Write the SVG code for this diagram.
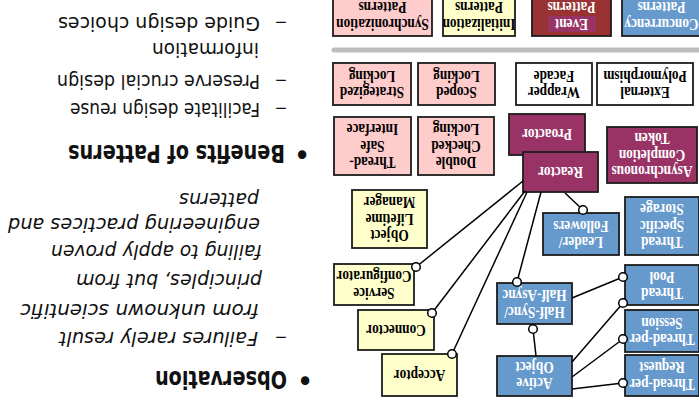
<svg xmlns="http://www.w3.org/2000/svg" width="699" height="403" viewBox="0 0 699 403">
<style>
  .box{stroke:#1c1c1c;stroke-width:1.8}
  .pink{fill:#ffcccc}
  .yel{fill:#ffffcc}
  .blue{fill:#6699cc}
  .mag{fill:#993366}
  .red{fill:#993333}
  .wht{fill:#ffffff}
  .lbl{font-family:"Liberation Serif","Times New Roman",serif;font-weight:bold;font-size:16px;text-anchor:middle;fill:#000;transform-box:fill-box;transform-origin:center;transform:scaleX(.83)}
  .inv{fill:#ffffff}
  .wire{stroke:#000;stroke-width:1.5;fill:none}
  .port{fill:#ffffff;stroke:#000;stroke-width:1.5}
  .txt{font-family:"DejaVu Sans",sans-serif;font-size:19px;fill:#111}
  .bold{font-weight:bold;font-size:24px}
  .ital{font-style:italic}
</style>
<rect width="699" height="403" fill="#ffffff"/>
<!-- slide is laid out upright, then turned half a revolution -->
<g transform="rotate(180 349.5 201.5)">

  <!-- bullet list -->
  <g id="notes" class="txt">
    <text class="bold" x="394" y="32" text-anchor="middle">•</text>
    <text class="bold" x="412" y="32" textLength="132" lengthAdjust="spacingAndGlyphs">Observation</text>
    <text x="412" y="71" textLength="12" lengthAdjust="spacingAndGlyphs">–</text>
    <text class="ital" x="441" y="71" textLength="199" lengthAdjust="spacingAndGlyphs">Failures rarely result</text>
    <text class="ital" x="440" y="99.5" textLength="239" lengthAdjust="spacingAndGlyphs">from unknown scientific</text>
    <text class="ital" x="437" y="129.5" textLength="186" lengthAdjust="spacingAndGlyphs">principles, but from</text>
    <text class="ital" x="437" y="158" textLength="211" lengthAdjust="spacingAndGlyphs">failing to apply proven</text>
    <text class="ital" x="439" y="185" textLength="252" lengthAdjust="spacingAndGlyphs">engineering practices and</text>
    <text class="ital" x="440" y="210" textLength="80" lengthAdjust="spacingAndGlyphs">patterns</text>
    <text class="bold" x="397" y="258" text-anchor="middle">•</text>
    <text class="bold" x="414" y="258" textLength="217" lengthAdjust="spacingAndGlyphs">Benefits of Patterns</text>
    <text x="412" y="300" textLength="12" lengthAdjust="spacingAndGlyphs">–</text>
    <text x="439" y="300" textLength="190" lengthAdjust="spacingAndGlyphs">Facilitate design reuse</text>
    <text x="412" y="328" textLength="12" lengthAdjust="spacingAndGlyphs">–</text>
    <text x="439" y="328" textLength="203" lengthAdjust="spacingAndGlyphs">Preserve crucial design</text>
    <text x="440" y="360" textLength="107" lengthAdjust="spacingAndGlyphs">information</text>
    <text x="412" y="386" textLength="12" lengthAdjust="spacingAndGlyphs">–</text>
    <text x="439" y="386" textLength="202" lengthAdjust="spacingAndGlyphs">Guide design choices</text>
  </g>

  <!-- pattern category headers -->
  <g id="synchronization">
    <rect class="box pink" x="267" y="367" width="99" height="45"/>
    <text class="lbl"><tspan x="316.5" y="384.3">Synchronization</tspan><tspan x="316.5" y="401">Patterns</tspan></text>
  </g>
  <g id="initialization">
    <rect class="box yel" x="184" y="367" width="72" height="45"/>
    <text class="lbl"><tspan x="220" y="384.3">Initialization</tspan><tspan x="220" y="401">Patterns</tspan></text>
  </g>
  <g id="event">
    <rect class="box red" x="88" y="367" width="79" height="45"/>
    <rect class="mag" x="103" y="371" width="48" height="16"/>
    <text class="lbl inv"><tspan x="127.5" y="384.3">Event</tspan><tspan x="127.5" y="401">Patterns</tspan></text>
  </g>
  <g id="concurrency">
    <rect class="box blue" x="-2" y="367" width="79" height="45"/>
    <text class="lbl inv"><tspan x="37.5" y="384.3">Concurrency</tspan><tspan x="37.5" y="401">Patterns</tspan></text>
  </g>

  <line id="divider" x1="-5" y1="353" x2="365" y2="353" stroke="#bdbdbd" stroke-width="5" stroke-linecap="round"/>

  <!-- second row -->
  <g id="strategized-locking">
    <rect class="box pink" x="288" y="298" width="78" height="42"/>
    <text class="lbl"><tspan x="327" y="316">Strategized</tspan><tspan x="327" y="332.5">Locking</tspan></text>
  </g>
  <g id="scoped-locking">
    <rect class="box pink" x="204" y="298" width="77" height="42"/>
    <text class="lbl"><tspan x="242.5" y="316">Scoped</tspan><tspan x="242.5" y="332.5">Locking</tspan></text>
  </g>
  <g id="wrapper-facade">
    <rect class="box wht" x="107" y="298" width="76" height="42"/>
    <text class="lbl"><tspan x="145" y="316">Wrapper</tspan><tspan x="145" y="332.5">Facade</tspan></text>
  </g>
  <g id="external-polymorphism">
    <rect class="box wht" x="6" y="298" width="96" height="42"/>
    <text class="lbl"><tspan x="54" y="316">External</tspan><tspan x="54" y="332.5">Polymorphism</tspan></text>
  </g>

  <!-- third row -->
  <g id="thread-safe-interface">
    <rect class="box pink" x="288" y="228" width="77" height="58"/>
    <text class="lbl"><tspan x="326.5" y="245.8">Thread-</tspan><tspan x="326.5" y="262.3">Safe</tspan><tspan x="326.5" y="278.8">Interface</tspan></text>
  </g>
  <g id="double-checked-locking">
    <rect class="box pink" x="205" y="228" width="76" height="58"/>
    <text class="lbl"><tspan x="243" y="245.8">Double</tspan><tspan x="243" y="262.3">Checked</tspan><tspan x="243" y="278.8">Locking</tspan></text>
  </g>
  <g id="proactor">
    <rect class="box mag" x="114" y="248" width="76" height="41"/>
    <text class="lbl inv" x="152" y="273.8">Proactor</text>
  </g>
  <g id="reactor">
    <rect class="box mag" x="101" y="211" width="75" height="40"/>
    <text class="lbl inv" x="138.5" y="236.3">Reactor</text>
  </g>
  <g id="asynchronous-completion-token">
    <rect class="box mag" x="2" y="220" width="90" height="56"/>
    <text class="lbl inv"><tspan x="47" y="236.8">Asynchronous</tspan><tspan x="47" y="253.3">Completion</tspan><tspan x="47" y="269.8">Token</tspan></text>
  </g>

  <!-- fourth row -->
  <g id="object-lifetime-manager">
    <rect class="box yel" x="272" y="155" width="75" height="58"/>
    <text class="lbl"><tspan x="309.5" y="172.8">Object</tspan><tspan x="309.5" y="189.3">Lifetime</tspan><tspan x="309.5" y="205.8">Manager</tspan></text>
  </g>
  <g id="leader-followers">
    <rect class="box blue" x="80" y="148" width="76" height="42"/>
    <text class="lbl inv"><tspan x="118" y="166">Leader/</tspan><tspan x="118" y="182.5">Followers</tspan></text>
  </g>
  <g id="thread-specific-storage">
    <rect class="box blue" x="0" y="148" width="74" height="58"/>
    <text class="lbl inv"><tspan x="37" y="165.8">Thread</tspan><tspan x="37" y="182.3">Specific</tspan><tspan x="37" y="198.8">Storage</tspan></text>
  </g>

  <!-- lower rows -->
  <g id="service-configurator">
    <rect class="box yel" x="285" y="98" width="80" height="41"/>
    <text class="lbl"><tspan x="325" y="115.5">Service</tspan><tspan x="325" y="132">Configurator</tspan></text>
  </g>
  <g id="connector">
    <rect class="box yel" x="265" y="53" width="76" height="40"/>
    <text class="lbl" x="303" y="78.3">Connector</text>
  </g>
  <g id="acceptor">
    <rect class="box yel" x="242" y="7" width="75" height="42"/>
    <text class="lbl" x="279.5" y="33.3">Acceptor</text>
  </g>
  <g id="half-sync-half-async">
    <rect class="box blue" x="127" y="79" width="75" height="41"/>
    <text class="lbl inv"><tspan x="164.5" y="96.5">Half-Sync/</tspan><tspan x="164.5" y="113">Half-Async</tspan></text>
  </g>
  <g id="active-object">
    <rect class="box blue" x="127" y="7" width="75" height="40"/>
    <text class="lbl inv"><tspan x="164.5" y="25">Active</tspan><tspan x="164.5" y="41.5">Object</tspan></text>
  </g>
  <g id="thread-pool">
    <rect class="box blue" x="0" y="98" width="74" height="40"/>
    <text class="lbl inv"><tspan x="37" y="115">Thread</tspan><tspan x="37" y="131.5">Pool</tspan></text>
  </g>
  <g id="thread-per-session">
    <rect class="box blue" x="0" y="51" width="74" height="42"/>
    <text class="lbl inv"><tspan x="37" y="69">Thread-per</tspan><tspan x="37" y="85.5">Session</tspan></text>
  </g>
  <g id="thread-per-request">
    <rect class="box blue" x="0" y="7" width="74" height="41"/>
    <text class="lbl inv"><tspan x="37" y="24.5">Thread-per</tspan><tspan x="37" y="41">Request</tspan></text>
  </g>

  <!-- connectors: plain lines ending in a small open circle -->
  <g id="connectors">
    <line class="wire" x1="134" y1="210" x2="116" y2="193"/>
    <line class="wire" x1="176" y1="222" x2="283" y2="136"/>
    <line class="wire" x1="174" y1="212" x2="267" y2="90"/>
    <line class="wire" x1="172" y1="211" x2="247" y2="49"/>
    <line class="wire" x1="158" y1="211" x2="182" y2="121"/>
    <line class="wire" x1="127" y1="105" x2="76" y2="126"/>
    <line class="wire" x1="127" y1="41" x2="76" y2="100"/>
    <line class="wire" x1="127" y1="26" x2="76" y2="64"/>
    <line class="wire" x1="127" y1="14" x2="76" y2="20"/>
    <line class="wire" x1="163" y1="47" x2="166" y2="74"/>
    <circle class="port" cx="116" cy="193" r="4.3"/>
    <circle class="port" cx="283" cy="136" r="4.3"/>
    <circle class="port" cx="267" cy="90" r="4.3"/>
    <circle class="port" cx="247" cy="49" r="4.3"/>
    <circle class="port" cx="182" cy="121" r="4.3"/>
    <circle class="port" cx="166" cy="74" r="4.3"/>
    <circle class="port" cx="76" cy="126" r="4.3"/>
    <circle class="port" cx="76" cy="100" r="4.3"/>
    <circle class="port" cx="76" cy="64" r="4.3"/>
    <circle class="port" cx="76" cy="20" r="4.3"/>
  </g>
</g>
</svg>
